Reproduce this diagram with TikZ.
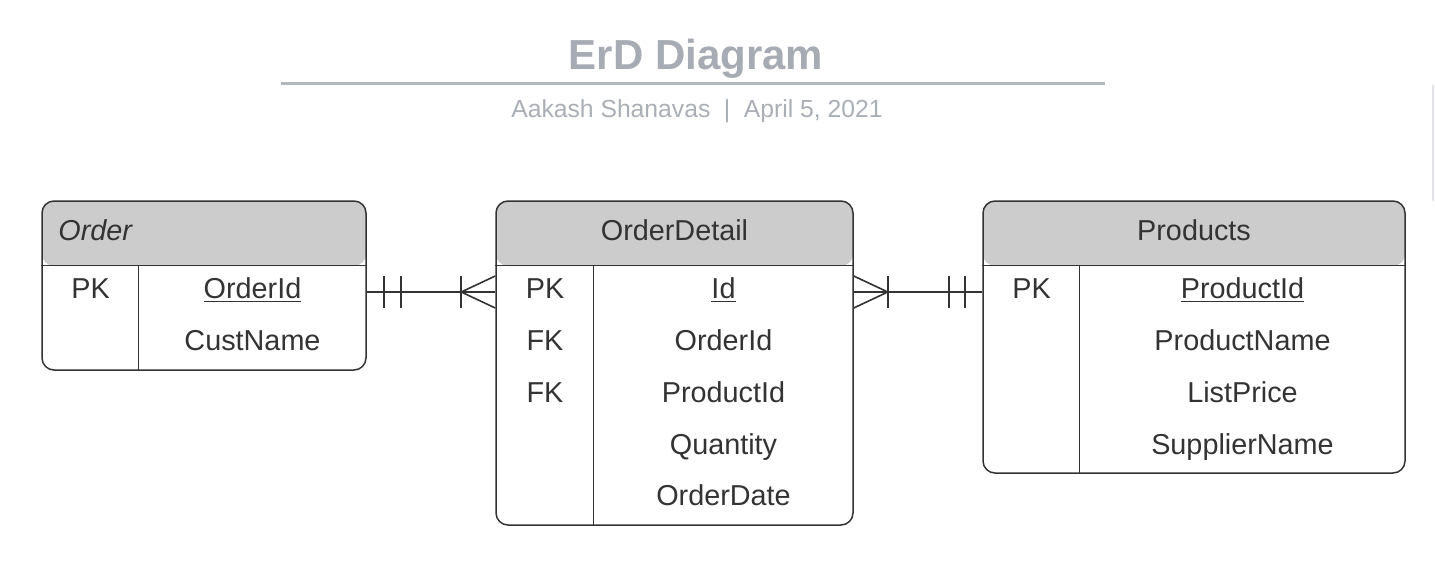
\documentclass[tikz,border=0pt]{standalone}
\usepackage{fontspec}
\setmainfont{Liberation Sans}
\usetikzlibrary{calc,positioning}
\definecolor{titlegray}{HTML}{A7ABB3}
\definecolor{subgray}{HTML}{AAAEB5}
\definecolor{rulegray}{HTML}{B4B8BD}
\definecolor{headgray}{HTML}{CCCCCC}
\definecolor{inkgray}{HTML}{333333}
\definecolor{ghostgray}{HTML}{E2E4E8}
\tikzset{
table/.style={
  rectangle,
  draw=inkgray,
  line width=0.75pt,
  rounded corners=6pt,
  path picture={\fill[headgray] (path picture bounding box.north west)
    rectangle ([yshift=-32.5pt]path picture bounding box.north east);}},
field/.style={
  inner sep=0pt,
  text=inkgray,
  font=\fontsize{14.4}{17}\selectfont},
title/.style={
  inner sep=0pt,
  text=titlegray,
  font=\fontsize{21}{25}\selectfont\bfseries},
subtitle/.style={
  inner sep=0pt,
  text=subgray,
  font=\fontsize{12.35}{15}\selectfont},
edge/.style={draw=inkgray, line width=0.75pt},
line/.style={draw=inkgray, line width=0.8pt}
}
\begin{document}
\begin{tikzpicture}[x=0.5pt, y=-0.5pt]
    \useasboundingbox (0,0) rectangle (1435,574);
    % heading
    \node [title, anchor=base] (title) at (696,69) {ErD Diagram};
    \draw [rulegray, line width=1.5pt] (281,83) -- (1105,83);
    \node [subtitle, anchor=base] (byline) at (697,117)
      {Aakash Shanavas\hspace{0.55em}|\hspace{0.55em}April 5, 2021};
    \draw [ghostgray, line width=1pt] (1433,85) -- (1433,201);
    % tables
    \node [table, minimum width=162pt, minimum height=84.5pt] (order) at (204,285.5) {};
    \node [table, minimum width=178.5pt, minimum height=162pt] (detail) at (674.5,363) {};
    \node [table, minimum width=211pt, minimum height=136pt] (products) at (1194,337) {};
    \draw [edge] ([yshift=-32.5pt]order.north west) -- ([yshift=-32.5pt]order.north east);
    \draw [edge] ([xshift=48.5pt,yshift=-32.5pt]order.north west) -- ([xshift=48.5pt]order.south west);
    \draw [edge] ([yshift=-32.5pt]detail.north west) -- ([yshift=-32.5pt]detail.north east);
    \draw [edge] ([xshift=49pt,yshift=-32.5pt]detail.north west) -- ([xshift=49pt]detail.south west);
    \draw [edge] ([yshift=-32.5pt]products.north west) -- ([yshift=-32.5pt]products.north east);
    \draw [edge] ([xshift=48.5pt,yshift=-32.5pt]products.north west) -- ([xshift=48.5pt]products.south west);
    % Order
    \node [field, anchor=base west] (order-head) at (58,240) {\itshape Order};
    \node [field, anchor=base] (order-pk) at (90.5,298) {PK};
    \node [field, anchor=base] (order-id) at (252.5,298) {\underline{OrderId}};
    \node [field, anchor=base] (order-cust) at (252.5,350) {CustName};
    % OrderDetail
    \node [field, anchor=base] (detail-head) at (674.5,240) {OrderDetail};
    \node [field, anchor=base] (detail-pk) at (545,298) {PK};
    \node [field, anchor=base] (detail-fk1) at (545,350) {FK};
    \node [field, anchor=base] (detail-fk2) at (545,402) {FK};
    \node [field, anchor=base] (detail-id) at (723.5,298) {\underline{Id}};
    \node [field, anchor=base] (detail-order) at (723.5,350) {OrderId};
    \node [field, anchor=base] (detail-product) at (723.5,402) {ProductId};
    \node [field, anchor=base] (detail-qty) at (723.5,454) {Quantity};
    \node [field, anchor=base] (detail-date) at (723.5,505) {OrderDate};
    % Products
    \node [field, anchor=base] (products-head) at (1194,240) {Products};
    \node [field, anchor=base] (products-pk) at (1031.5,298) {PK};
    \node [field, anchor=base] (products-id) at (1242.5,298) {\underline{ProductId}};
    \node [field, anchor=base] (products-name) at (1242.5,350) {ProductName};
    \node [field, anchor=base] (products-price) at (1242.5,402) {ListPrice};
    \node [field, anchor=base] (products-supplier) at (1242.5,454) {SupplierName};
    % relations
    \coordinate (rel1) at (431,292);
    \coordinate (rel2) at (918,292);
    \path [line] (order.east |- rel1) -- (detail.west |- rel1);
    \path [line] ($(order.east |- rel1)+(17,-16)$) -- ++(0,32);
    \path [line] ($(order.east |- rel1)+(34,-16)$) -- ++(0,32);
    \path [line] ($(detail.west |- rel1)+(-34,-16)$) -- ++(0,32);
    \path [line] ($(detail.west |- rel1)+(0,-16)$) -- ($(detail.west |- rel1)+(-34,0)$)
      -- ($(detail.west |- rel1)+(0,16)$);
    \path [line] (detail.east |- rel2) -- (products.west |- rel2);
    \path [line] ($(detail.east |- rel2)+(34,-16)$) -- ++(0,32);
    \path [line] ($(detail.east |- rel2)+(0,-16)$) -- ($(detail.east |- rel2)+(34,0)$)
      -- ($(detail.east |- rel2)+(0,16)$);
    \path [line] ($(products.west |- rel2)+(-33,-16)$) -- ++(0,32);
    \path [line] ($(products.west |- rel2)+(-17,-16)$) -- ++(0,32);
\end{tikzpicture}
\end{document}
